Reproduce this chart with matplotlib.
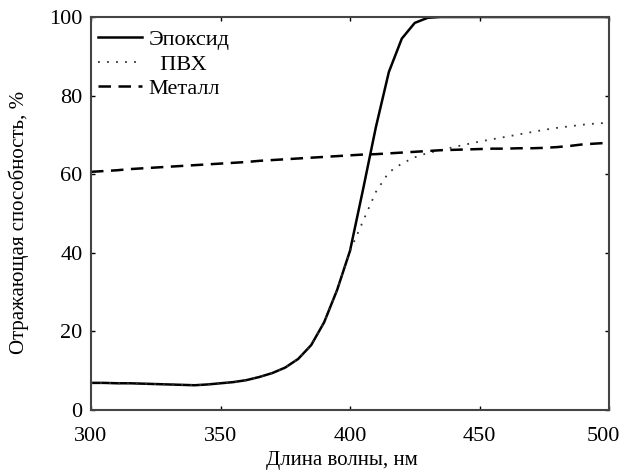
import matplotlib
matplotlib.use("Agg")
import matplotlib.pyplot as plt
import matplotlib.transforms as mtransforms

plt.rcParams['font.family'] = ['Liberation Serif', 'DejaVu Serif']

wavelength = [300, 305, 310, 315, 320, 325, 330, 335, 340, 345, 350, 355, 360, 365, 370,
              375, 380, 385, 390, 395, 400, 405, 410, 415, 420, 425, 430, 435, 440, 445,
              450, 455, 460, 465, 470, 475, 480, 485, 490, 495, 500]

epoxy = [6.9, 6.9, 6.8, 6.8, 6.7, 6.6, 6.5, 6.4, 6.3, 6.5, 6.8, 7.1, 7.6, 8.4, 9.4,
         10.8, 13.0, 16.5, 22.3, 30.5, 40.5, 56.0, 72.0, 86.0, 94.5, 98.5, 99.8, 100, 100, 100,
         100, 100, 100, 100, 100, 100, 100, 100, 100, 100, 100]

pvc = [6.9, 6.9, 6.8, 6.8, 6.7, 6.6, 6.5, 6.4, 6.3, 6.5, 6.8, 7.1, 7.6, 8.4, 9.4,
       10.8, 13.0, 16.5, 22.3, 30.5, 40.5, 48.0, 55.5, 60.5, 62.7, 64.3, 65.4, 66.1, 66.9, 67.6,
       68.3, 68.9, 69.5, 70.1, 70.7, 71.3, 71.8, 72.2, 72.6, 72.9, 73.1]

metal = [60.6, 60.8, 61.0, 61.3, 61.5, 61.7, 61.9, 62.1, 62.3, 62.5, 62.7, 62.9, 63.1, 63.4, 63.6,
         63.8, 64.0, 64.2, 64.4, 64.6, 64.8, 65.0, 65.1, 65.3, 65.5, 65.7, 65.9, 66.1, 66.2, 66.3,
         66.4, 66.5, 66.5, 66.6, 66.6, 66.7, 66.9, 67.2, 67.6, 67.8, 68.0]

labels = ["Эпоксид", "  ПВХ", "Металл"]
x_ticks = [300, 350, 400, 450, 500]
y_ticks = [0, 20, 40, 60, 80, 100]

fig = plt.figure(figsize=(6.2, 4.7), dpi=100)
ax = fig.add_axes([91/620, 1 - 410/470, (609-91)/620, (410-17)/470])

ax.plot(wavelength, epoxy, color='black', lw=1.8, linestyle='-', label=labels[0])
ax.plot(wavelength, pvc, color='#333333', lw=1.3, linestyle=(0, (1, 4)), label=labels[1])
ax.plot(wavelength, metal, color='black', lw=1.8, linestyle=(0, (5, 3)), label=labels[2])

ax.set_xlim(300, 500)
ax.set_ylim(0, 100)
ax.set_xticks(x_ticks)
ax.set_yticks(y_ticks)
ax.tick_params(direction='in', length=3, width=1, labelsize=16, top=True, right=True)
ax.tick_params(axis='x', pad=12)
ax.tick_params(axis='y', pad=6)
for s in ax.spines.values():
    s.set_linewidth(1.5)
    s.set_color('#444444')

# shift the last x tick label slightly left so it stays inside the figure
fig.canvas.draw()
last = ax.get_xticklabels()[-1]
last.set_transform(last.get_transform() + mtransforms.ScaledTranslation(-6/100, 0, fig.dpi_scale_trans))

ax.set_xlabel("Длина волны, нм", fontsize=15, labelpad=5)
ax.xaxis.set_label_coords((342-91)/(609-91), -(461-410)/(410-17))
ax.xaxis.label.set_va('center')
ax.set_ylabel("Отражающая способность, %", fontsize=15)
ax.yaxis.set_label_coords(-(91-19)/(609-91), (410-222)/(410-17))
ax.yaxis.label.set_va('center')

leg = ax.legend(loc='upper left', bbox_to_anchor=(0.0, 0.985), frameon=False, fontsize=16,
                handlelength=2.0, handletextpad=0.3, labelspacing=0.18, borderaxespad=0.0,
                borderpad=0.3)

fig.savefig("out.png", dpi=100)
